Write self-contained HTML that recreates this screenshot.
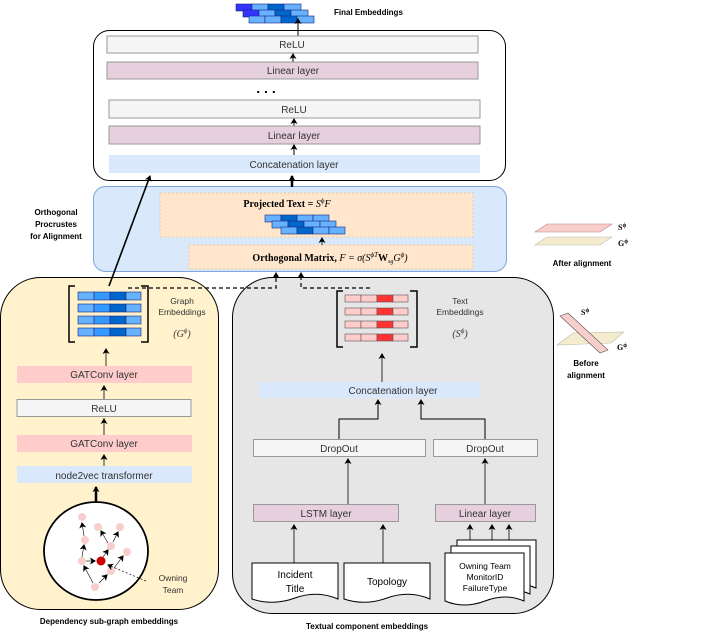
<!DOCTYPE html>
<html><head><meta charset="utf-8"><style>
html,body{margin:0;padding:0;background:#fff}
svg{display:block;font-family:"Liberation Sans",sans-serif}
.l{font-size:10px;fill:#333;text-anchor:middle}
.b{font-size:8px;font-weight:bold;fill:#000}
.s{font-size:8.5px;fill:#333;text-anchor:middle}
.m{font-family:"Liberation Serif",serif;font-size:10px;font-weight:bold;text-anchor:middle;fill:#000}
</style></head><body>
<svg width="706" height="640" viewBox="0 0 706 640" xmlns="http://www.w3.org/2000/svg">
<defs>
<marker id="a" markerWidth="8" markerHeight="8" refX="5" refY="4" orient="auto" markerUnits="userSpaceOnUse"><path d="M0,0.5 L6,4 L0,7.5 L1.5,4z" fill="#000"/></marker>
</defs>
<!-- final embeddings -->
<g stroke="#1a237e" stroke-width="0.6">
<rect x="236" y="4" width="16" height="7" fill="#3333ff"/><rect x="252" y="4" width="16" height="7" fill="#66b2ff"/><rect x="268" y="4" width="16" height="7" fill="#0066cc"/><rect x="284" y="4" width="17" height="7" fill="#66b2ff"/>
<rect x="243" y="10" width="16" height="7" fill="#3333ff"/><rect x="259" y="10" width="16" height="7" fill="#66b2ff"/><rect x="275" y="10" width="16" height="7" fill="#0066cc"/><rect x="291" y="10" width="17" height="7" fill="#66b2ff"/>
<rect x="249" y="16" width="16" height="7" fill="#66b2ff"/><rect x="265" y="16" width="16" height="7" fill="#66b2ff"/><rect x="281" y="16" width="16" height="7" fill="#0066cc"/><rect x="297" y="16" width="17" height="7" fill="#66b2ff"/>
</g>
<text x="334" y="15" class="b">Final Embeddings</text>
<!-- top box -->
<rect x="93.5" y="30.5" width="412" height="150" rx="16" fill="#fff" stroke="#000"/>
<line x1="298" y1="36" x2="298" y2="19" stroke="#000" marker-end="url(#a)"/>
<rect x="107" y="36" width="371" height="17" fill="#f5f5f5" stroke="#999"/><text x="292" y="48" class="l">ReLU</text>
<line x1="293" y1="62" x2="293" y2="54" stroke="#000" marker-end="url(#a)"/>
<rect x="107" y="62" width="371" height="17" fill="#e6d0de" stroke="#999"/><text x="293" y="74" class="l">Linear layer</text>
<text x="266" y="93" style="font-size:14px;font-weight:bold;text-anchor:middle">. . .</text>
<rect x="109" y="100" width="371" height="18" fill="#f5f5f5" stroke="#999"/><text x="294" y="113" class="l">ReLU</text>
<line x1="294" y1="126" x2="294" y2="119" stroke="#000" marker-end="url(#a)"/>
<rect x="109" y="126" width="371" height="18" fill="#e6d0de" stroke="#999"/><text x="294" y="139" class="l">Linear layer</text>
<line x1="294" y1="155" x2="294" y2="145" stroke="#000" marker-end="url(#a)"/>
<rect x="109" y="155" width="371" height="18" fill="#dae8fc"/><text x="294" y="168" class="l">Concatenation layer</text>
<!-- blue alignment box -->
<rect x="93.5" y="186.5" width="413" height="85" rx="12" fill="#dae8fc" stroke="#7ea6e0"/>
<rect x="160" y="193" width="313" height="44" fill="#ffe6cc" stroke="#f0c080" stroke-dasharray="2,2" stroke-width="0.7"/>
<text x="287" y="207" class="m">Projected Text = <tspan font-style="italic" font-weight="normal">S</tspan><tspan font-size="7" dy="-4" font-weight="normal">ϕ</tspan><tspan dy="4" font-style="italic" font-weight="normal">F</tspan></text>
<g stroke="#1a237e" stroke-width="0.6">
<rect x="265" y="215" width="16" height="7" fill="#66b2ff"/><rect x="281" y="215" width="16" height="7" fill="#0066cc"/><rect x="297" y="215" width="16" height="7" fill="#66b2ff"/><rect x="313" y="215" width="16" height="7" fill="#66b2ff"/>
<rect x="272" y="221" width="16" height="7" fill="#66b2ff"/><rect x="288" y="221" width="16" height="7" fill="#0066cc"/><rect x="304" y="221" width="16" height="7" fill="#66b2ff"/><rect x="320" y="221" width="16" height="7" fill="#66b2ff"/>
<rect x="281" y="227" width="16" height="7" fill="#66b2ff"/><rect x="297" y="227" width="16" height="7" fill="#0066cc"/><rect x="313" y="227" width="16" height="7" fill="#66b2ff"/><rect x="329" y="227" width="16" height="7" fill="#66b2ff"/>
</g>
<rect x="189" y="245" width="284" height="24" fill="#ffe6cc" stroke="#f0c080" stroke-dasharray="2,2" stroke-width="0.7"/>
<line x1="322" y1="245" x2="322" y2="238" stroke="#000" stroke-width="0.8" marker-end="url(#a)"/>
<text x="330" y="261" class="m">Orthogonal Matrix, <tspan font-style="italic" font-weight="normal">F = σ(S<tspan font-size="7" dy="-4">ϕT</tspan><tspan dy="4" font-weight="bold" font-style="normal">W</tspan><tspan font-size="6" dy="2">sg</tspan><tspan dy="-2">G</tspan><tspan font-size="7" dy="-4">ϕ</tspan><tspan dy="4">)</tspan></tspan></text>
<text class="b" text-anchor="middle"><tspan x="56" y="215">Orthogonal</tspan><tspan x="56" y="227">Procrustes</tspan><tspan x="56" y="239">for Alignment</tspan></text>
<line x1="292" y1="187" x2="292" y2="176" stroke="#000" stroke-width="2.5" marker-end="url(#a)"/>
<!-- yellow box -->
<rect x="0.5" y="277.5" width="218" height="332" rx="40" fill="#fff2cc" stroke="#000"/>
<!-- gray box -->
<rect x="232.5" y="277.5" width="321" height="336" rx="40" fill="#e6e6e6" stroke="#000"/>
<!-- graph matrix -->
<path d="M75,286 H69 V342 H75 M141,286 H148 V342 H141" fill="none" stroke="#000" stroke-width="1.5"/>
<g stroke="#1a237e" stroke-width="0.6">
<g><rect x="78" y="292" width="16" height="8" fill="#66b2ff"/><rect x="94" y="292" width="16" height="8" fill="#3399ff"/><rect x="110" y="292" width="16" height="8" fill="#0066cc"/><rect x="126" y="292" width="15" height="8" fill="#66b2ff"/></g>
<g><rect x="78" y="304" width="16" height="8" fill="#66b2ff"/><rect x="94" y="304" width="16" height="8" fill="#3399ff"/><rect x="110" y="304" width="16" height="8" fill="#0066cc"/><rect x="126" y="304" width="15" height="8" fill="#66b2ff"/></g>
<g><rect x="78" y="316" width="16" height="8" fill="#66b2ff"/><rect x="94" y="316" width="16" height="8" fill="#3399ff"/><rect x="110" y="316" width="16" height="8" fill="#0066cc"/><rect x="126" y="316" width="15" height="8" fill="#66b2ff"/></g>
<g><rect x="78" y="328" width="16" height="8" fill="#66b2ff"/><rect x="94" y="328" width="16" height="8" fill="#3399ff"/><rect x="110" y="328" width="16" height="8" fill="#0066cc"/><rect x="126" y="328" width="15" height="8" fill="#66b2ff"/></g>
</g>
<text class="s"><tspan x="182" y="304">Graph</tspan><tspan x="182" y="315">Embeddings</tspan></text>
<text x="182" y="337" class="s" style="font-family:'Liberation Serif',serif;font-style:italic;font-size:10px">(G<tspan font-size="7" dy="-4">ϕ</tspan><tspan dy="4">)</tspan></text>
<line x1="109" y1="286" x2="150" y2="176" stroke="#000" stroke-width="1.6" marker-end="url(#a)"/>
<path d="M128,288 H276 V276" fill="none" stroke="#000" stroke-width="1.2" stroke-dasharray="4,3"/>
<line x1="276" y1="280" x2="276" y2="273" stroke="#000" marker-end="url(#a)"/>
<path d="M370,288 H301 V278" fill="none" stroke="#000" stroke-width="1.2" stroke-dasharray="4,3"/>
<line x1="301" y1="280" x2="301" y2="273" stroke="#000" marker-end="url(#a)"/>
<line x1="106" y1="366" x2="106" y2="349" stroke="#333" marker-end="url(#a)"/>
<rect x="17" y="366" width="175" height="17" fill="#ffcccc"/><text x="104" y="378" class="l">GATConv layer</text>
<line x1="104" y1="400" x2="104" y2="386" stroke="#333" marker-end="url(#a)"/>
<rect x="17" y="399.5" width="174" height="17" fill="#f5f5f5" stroke="#999"/><text x="104" y="412" class="l">ReLU</text>
<line x1="104" y1="435" x2="104" y2="419" stroke="#333" marker-end="url(#a)"/>
<rect x="17" y="435" width="175" height="17" fill="#ffcccc"/><text x="104" y="447" class="l">GATConv layer</text>
<line x1="104" y1="466" x2="104" y2="455" stroke="#333" marker-end="url(#a)"/>
<rect x="17" y="466" width="175" height="17" fill="#dae8fc"/><text x="104" y="479" class="l">node2vec transformer</text>
<line x1="96" y1="503" x2="96" y2="487" stroke="#000" stroke-width="2.5" marker-end="url(#a)"/>
<!-- graph circle -->
<ellipse cx="96" cy="551" rx="52" ry="49" fill="#fff" stroke="#000" stroke-width="1.8"/>
<g stroke="#000" stroke-width="0.6">
<line x1="84" y1="536" x2="82" y2="523" marker-end="url(#a)"/>
<line x1="82" y1="557" x2="84" y2="545" marker-end="url(#a)"/>
<line x1="108" y1="543" x2="101" y2="531" marker-end="url(#a)"/>
<line x1="113" y1="542" x2="118" y2="532" marker-end="url(#a)"/>
<line x1="103" y1="557" x2="108" y2="550" marker-end="url(#a)"/>
<line x1="86" y1="561" x2="95" y2="561" marker-end="url(#a)"/>
<line x1="114" y1="568" x2="123" y2="556" marker-end="url(#a)"/>
<line x1="93" y1="583" x2="84" y2="566" marker-end="url(#a)"/>
<line x1="99" y1="583" x2="107" y2="575" marker-end="url(#a)"/>
</g>
<g fill="#f8cecc">
<circle cx="82" cy="517" r="4"/><circle cx="98" cy="527" r="4"/><circle cx="120" cy="527" r="4"/><circle cx="85" cy="540" r="4"/><circle cx="111" cy="546" r="4"/><circle cx="127" cy="552" r="4"/><circle cx="82" cy="561" r="4"/><circle cx="111" cy="571" r="4"/><circle cx="95" cy="587" r="4"/>
</g>
<circle cx="101" cy="561" r="4.5" fill="#cc0000"/>
<line x1="146" y1="581" x2="108" y2="565" stroke="#000" stroke-width="0.7" stroke-dasharray="2,2" marker-end="url(#a)"/>
<text class="s"><tspan x="173" y="581">Owning</tspan><tspan x="173" y="593">Team</tspan></text>
<text x="109" y="624" class="b" text-anchor="middle">Dependency sub-graph embeddings</text>
<!-- text matrix -->
<path d="M343,291 H337 V347 H343 M410,291 H417 V347 H410" fill="none" stroke="#000" stroke-width="1.5"/>
<g stroke="#555" stroke-width="0.6">
<g><rect x="345" y="295" width="16" height="7" fill="#ffcccc"/><rect x="361" y="295" width="16" height="7" fill="#ffcccc"/><rect x="377" y="295" width="16" height="7" fill="#ff3333"/><rect x="393" y="295" width="15" height="7" fill="#ffcccc"/></g>
<g><rect x="345" y="308" width="16" height="7" fill="#ffcccc"/><rect x="361" y="308" width="16" height="7" fill="#ffcccc"/><rect x="377" y="308" width="16" height="7" fill="#ff3333"/><rect x="393" y="308" width="15" height="7" fill="#ffcccc"/></g>
<g><rect x="345" y="321" width="16" height="7" fill="#ffcccc"/><rect x="361" y="321" width="16" height="7" fill="#ffcccc"/><rect x="377" y="321" width="16" height="7" fill="#ff3333"/><rect x="393" y="321" width="15" height="7" fill="#ffcccc"/></g>
<g><rect x="345" y="334" width="16" height="7" fill="#ffcccc"/><rect x="361" y="334" width="16" height="7" fill="#ffcccc"/><rect x="377" y="334" width="16" height="7" fill="#ff3333"/><rect x="393" y="334" width="15" height="7" fill="#ffcccc"/></g>
</g>
<text class="s"><tspan x="460" y="304">Text</tspan><tspan x="460" y="315">Embeddings</tspan></text>
<text x="460" y="337" class="s" style="font-family:'Liberation Serif',serif;font-style:italic;font-size:10px">(S<tspan font-size="7" dy="-4">ϕ</tspan><tspan dy="4">)</tspan></text>
<line x1="382" y1="382" x2="382" y2="354" stroke="#333" marker-end="url(#a)"/>
<rect x="259" y="382" width="221" height="16" fill="#dae8fc"/><text x="393" y="394" class="l">Concatenation layer</text>
<path d="M339,439 V419 H378 V400" fill="none" stroke="#000" marker-end="url(#a)"/>
<path d="M485,439 V419 H421 V400" fill="none" stroke="#000" marker-end="url(#a)"/>
<rect x="253.5" y="439.5" width="172" height="17" fill="#f5f5f5" stroke="#999"/><text x="339" y="452" class="l">DropOut</text>
<rect x="433.5" y="439.5" width="104" height="17" fill="#f5f5f5" stroke="#999"/><text x="485" y="452" class="l">DropOut</text>
<line x1="348" y1="505" x2="348" y2="459" stroke="#333" marker-end="url(#a)"/>
<line x1="485" y1="505" x2="485" y2="459" stroke="#333" marker-end="url(#a)"/>
<rect x="253.5" y="504.5" width="145" height="17" fill="#e6d0de" stroke="#999"/><text x="326" y="517" class="l">LSTM layer</text>
<rect x="435.5" y="504.5" width="100" height="17" fill="#e6d0de" stroke="#999"/><text x="485" y="517" class="l">Linear layer</text>
<line x1="294" y1="563" x2="294" y2="525" stroke="#333" marker-end="url(#a)"/>
<line x1="383" y1="563" x2="383" y2="525" stroke="#333" marker-end="url(#a)"/>
<line x1="470" y1="540" x2="470" y2="525" stroke="#333" marker-end="url(#a)"/>
<line x1="492" y1="540" x2="492" y2="525" stroke="#333" marker-end="url(#a)"/>
<line x1="509" y1="540" x2="509" y2="525" stroke="#333" marker-end="url(#a)"/>
<!-- documents -->
<g fill="#fff" stroke="#000">
<path d="M252,563 H338 V599 Q317,590 295,598 Q273,606 252,599 Z"/>
<path d="M344,563 H430 V599 Q409,590 387,598 Q365,606 344,599 Z"/>
<path d="M457,540 H536 V588 Q518,580 497,588 Q476,596 457,588 Z"/>
<path d="M451,546 H530 V594 Q512,586 491,594 Q470,602 451,594 Z"/>
<path d="M445,553 H524 V601 Q506,593 485,601 Q464,609 445,601 Z"/>
</g>
<text class="l" style="fill:#000"><tspan x="295" y="578">Incident</tspan><tspan x="295" y="592">Title</tspan></text>
<text x="387" y="585" class="l" style="fill:#000">Topology</text>
<text class="s" style="fill:#000"><tspan x="485" y="569">Owning Team</tspan><tspan x="485" y="580">MonitorID</tspan><tspan x="485" y="591">FailureType</tspan></text>
<text x="367" y="629" class="b" text-anchor="middle">Textual component embeddings</text>
<!-- right side planes -->
<polygon points="547,224 612,224 600,232 535,232" fill="#f8cecc" stroke="#b88" stroke-width="0.6"/>
<polygon points="547,237 612,237 600,245 535,245" fill="#f5ecd0" stroke="#bba" stroke-width="0.6"/>
<text x="618" y="230" style="font-family:'Liberation Serif',serif;font-size:8px;font-weight:bold">S<tspan font-size="6" dy="-3">ϕ</tspan></text>
<text x="618" y="246" style="font-family:'Liberation Serif',serif;font-size:8px;font-weight:bold">G<tspan font-size="6" dy="-3">ϕ</tspan></text>
<text x="582" y="266" class="b" text-anchor="middle">After alignment</text>
<polygon points="573,333 624,332 611,343 557,345" fill="#f5ecd0" stroke="#bba" stroke-width="0.6"/>
<polygon points="560,316 568,313 608,350 600,353" fill="#f8cecc" stroke="#555" stroke-width="0.6"/>
<text x="581" y="315" style="font-family:'Liberation Serif',serif;font-size:8px;font-weight:bold">S<tspan font-size="6" dy="-3">ϕ</tspan></text>
<text x="617" y="350" style="font-family:'Liberation Serif',serif;font-size:8px;font-weight:bold">G<tspan font-size="6" dy="-3">ϕ</tspan></text>
<text class="b" text-anchor="middle"><tspan x="586" y="366">Before</tspan><tspan x="586" y="378">alignment</tspan></text>
</svg>
</body></html>
